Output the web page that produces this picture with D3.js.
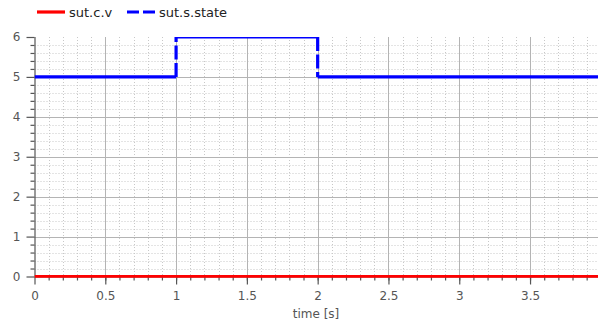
<!DOCTYPE html>
<html>
<head>
<meta charset="utf-8">
<script src="https://cdn.jsdelivr.net/npm/d3@7"></script>
<style>
  body { margin: 0; background: #fff; }
  svg { display: block; font-family: "DejaVu Sans", sans-serif; }
</style>
</head>
<body>
<svg id="chart" width="598" height="325"></svg>
<script>
// データ
const seriesNames = ["sut.c.v", "sut.s.state"];
const seriesColors = ["#ff0000", "#0000ff"];
const timeCV = [0, 3.98];
const valueCV = [0, 0];
const timeState = [0, 1, 1, 2, 2, 3.98];
const valueState = [5, 5, 6, 6, 5, 5];
const xTicks = [0, 0.5, 1, 1.5, 2, 2.5, 3, 3.5];
const yTicks = [0, 1, 2, 3, 4, 5, 6];

const svg = d3.select("#chart");
const pLeft = 34.5, pRight = 598, pTop = 37, pBottom = 276.5;

const x = d3.scaleLinear().domain([0, 3.98]).range([pLeft, pRight]);
const y = d3.scaleLinear().domain([0, 6]).range([pBottom, pTop]);

svg.append("clipPath").attr("id", "clip")
  .append("rect")
  .attr("x", pLeft).attr("y", pTop)
  .attr("width", pRight - pLeft).attr("height", pBottom - pTop + 1.2);

// 補助グリッド（点線）
const xMinor = d3.range(1, 40).map(i => i / 10).filter(v => v < 3.98);
const yMinor = d3.range(1, 30).map(i => i / 5);

const grid = svg.append("g");
grid.selectAll(".vminor").data(xMinor).enter().append("line")
  .attr("x1", d => Math.round(x(d)) + 0.5).attr("x2", d => Math.round(x(d)) + 0.5)
  .attr("y1", pTop).attr("y2", pBottom)
  .attr("stroke", "#c8c8c8").attr("stroke-dasharray", "1,2");
grid.selectAll(".hminor").data(yMinor).enter().append("line")
  .attr("x1", pLeft).attr("x2", pRight)
  .attr("y1", d => Math.round(y(d)) + 0.5).attr("y2", d => Math.round(y(d)) + 0.5)
  .attr("stroke", "#c8c8c8").attr("stroke-dasharray", "1,2");

// 主グリッド
grid.selectAll(".vmajor").data(xTicks.filter(d => d > 0)).enter().append("line")
  .attr("x1", d => Math.round(x(d)) + 0.5).attr("x2", d => Math.round(x(d)) + 0.5)
  .attr("y1", pTop).attr("y2", pBottom)
  .attr("stroke", "#b4b4b4");
grid.selectAll(".hmajor").data(yTicks.filter(d => d > 0 && d < 6)).enter().append("line")
  .attr("x1", pLeft).attr("x2", pRight)
  .attr("y1", d => Math.round(y(d)) + 0.5).attr("y2", d => Math.round(y(d)) + 0.5)
  .attr("stroke", "#b4b4b4");

// 軸
const axisColor = "#555";
const xAxis = svg.append("g").attr("transform", `translate(0,${pBottom})`);
xAxis.call(d3.axisBottom(x).tickValues(xMinor).tickSize(4).tickFormat(""));
xAxis.call(g => g.selectAll(".domain").remove());
const xAxisMajor = svg.append("g").attr("transform", `translate(0,${pBottom})`)
  .call(d3.axisBottom(x).tickValues(xTicks).tickSize(8).tickPadding(7).tickFormat(d3.format("~g")));
xAxisMajor.select(".domain").attr("d", `M${pLeft},0.5H${pRight}`);

const yAxis = svg.append("g").attr("transform", `translate(${pLeft},0)`);
yAxis.call(d3.axisLeft(y).tickValues(yMinor.filter(d => d % 1 !== 0)).tickSize(4).tickFormat(""));
yAxis.call(g => g.selectAll(".domain").remove());
const yAxisMajor = svg.append("g").attr("transform", `translate(${pLeft},0)`)
  .call(d3.axisLeft(y).tickValues(yTicks).tickSize(8).tickPadding(6).tickFormat(d3.format("~g")));
yAxisMajor.select(".domain").attr("d", `M0.5,${pTop}V${pBottom}`);

svg.selectAll(".tick line, .domain").attr("stroke", axisColor).attr("stroke-width", 1.2);
svg.selectAll(".tick text").attr("fill", "#555").attr("font-size", 12)
  .attr("font-family", "DejaVu Sans, sans-serif");

svg.append("text")
  .attr("x", 316).attr("y", 318)
  .attr("text-anchor", "middle")
  .attr("font-size", 12).attr("fill", "#555")
  .text("time [s]");

// 線
const plot = svg.append("g").attr("clip-path", "url(#clip)");
plot.append("path")
  .datum(timeCV.map((t, i) => [t, valueCV[i]]))
  .attr("d", d3.line().x(d => x(d[0])).y(d => y(d[1])))
  .attr("fill", "none").attr("stroke", seriesColors[0]).attr("stroke-width", 3.2);

// 状態：区間ごとに描く（縦の跳びは破線）
const segs = d3.pairs(timeState.map((t, i) => [t, valueState[i]]));
plot.selectAll(".seg").data(segs).enter().append("line")
  .attr("x1", d => x(d[0][0])).attr("y1", d => y(d[0][1]))
  .attr("x2", d => x(d[1][0])).attr("y2", d => y(d[1][1]))
  .attr("stroke", seriesColors[1]).attr("stroke-width", 3.2)
  .attr("stroke-dasharray", d => d[0][0] === d[1][0] ? "14,3.5" : null);

// 凡例
const legend = svg.append("g").attr("transform", "translate(37,12)");
const items = [[0, 0, null], [1, 90, "12,4"]];
items.forEach(([i, dx, dash]) => {
  legend.append("line")
    .attr("x1", dx).attr("x2", dx + 28).attr("y1", 0).attr("y2", 0)
    .attr("stroke", seriesColors[i]).attr("stroke-width", 3.2)
    .attr("stroke-dasharray", dash);
  legend.append("text")
    .attr("x", dx + 32).attr("y", 4.5)
    .attr("font-size", 13).attr("fill", "#222")
    .text(seriesNames[i]);
});
</script>
</body>
</html>
